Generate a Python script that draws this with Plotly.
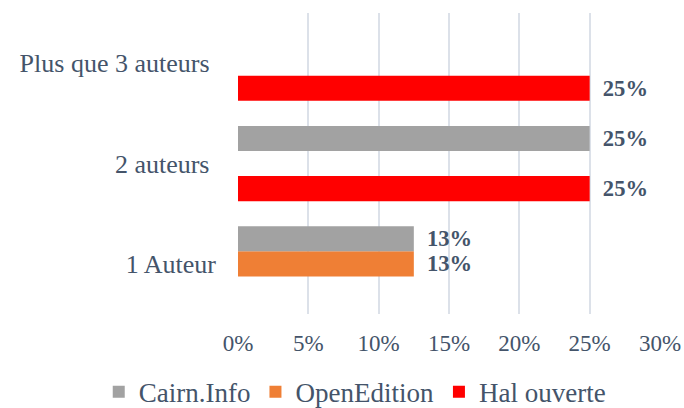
import plotly.graph_objects as go

categories = ["1 Auteur", "2 auteurs", "Plus que 3 auteurs"]
tick_labels = ["1 Auteur", "2 auteurs\u00a0", "Plus que 3 auteurs\u00a0"]
series_names = ["Hal ouverte", "OpenEdition", "Cairn.Info"]
hal_values = [None, 25, 25]
openedition_values = [12.5, None, None]
cairn_values = [12.5, 25, None]
hal_labels = ["", "25%", "25%"]
openedition_labels = ["13%", "", ""]
cairn_labels = ["13%", "25%", ""]
x_ticks = [0, 5, 10, 15, 20, 25, 30]
x_tick_labels = ["0%", "5%", "10%", "15%", "20%", "25%", "30%"]

FONT = "Liberation Serif"
TXT = "#44546A"

fig = go.Figure()
specs = [
    (series_names[0], hal_values, hal_labels, "#FF0000"),
    (series_names[1], openedition_values, openedition_labels, "#EF7F35"),
    (series_names[2], cairn_values, cairn_labels, "#A2A2A2"),
]
for name, vals, labels, color in specs:
    fig.add_trace(go.Bar(
        name=name, y=categories, x=vals, orientation="h",
        marker=dict(color=color, line=dict(width=0)),
        text=labels, texttemplate="\u00a0\u2009%{text}",
        textposition="outside", cliponaxis=False,
        textfont=dict(family=FONT, size=27, color=TXT, weight="bold"),
        hoverinfo="skip",
    ))

fig.update_layout(
    barmode="group", bargap=0.25, bargroupgap=0,
    width=684, height=408,
    margin=dict(l=238, r=24, t=13, b=94, autoexpand=False),
    paper_bgcolor="white", plot_bgcolor="white",
    font=dict(family=FONT, size=26, color=TXT),
    legend=dict(orientation="h", traceorder="reversed",
                x=-0.33, xanchor="left", y=-0.26, yanchor="middle",
                font=dict(family=FONT, size=27, color=TXT)),
    showlegend=True,
)
fig.update_xaxes(range=[0, 30], tickmode="array", tickvals=x_ticks, ticktext=x_tick_labels,
                 showgrid=True, gridcolor="#DCE1E9", gridwidth=2,
                 zeroline=False, showline=False, ticks="", automargin=False,
                 ticklabelstandoff=13,
                 tickfont=dict(family=FONT, size=23, color=TXT))
fig.update_yaxes(type="category", categoryorder="array", categoryarray=categories,
                 tickmode="array", tickvals=categories, ticktext=tick_labels,
                 showgrid=False, zeroline=False, showline=False, ticks="", automargin=False,
                 ticklabelstandoff=21,
                 tickfont=dict(family=FONT, size=26, color=TXT))

fig.write_html(
    "out.html",
    config={"displayModeBar": False},
    post_script="document.body.style.margin='0';document.body.style.overflow='hidden';",
)
